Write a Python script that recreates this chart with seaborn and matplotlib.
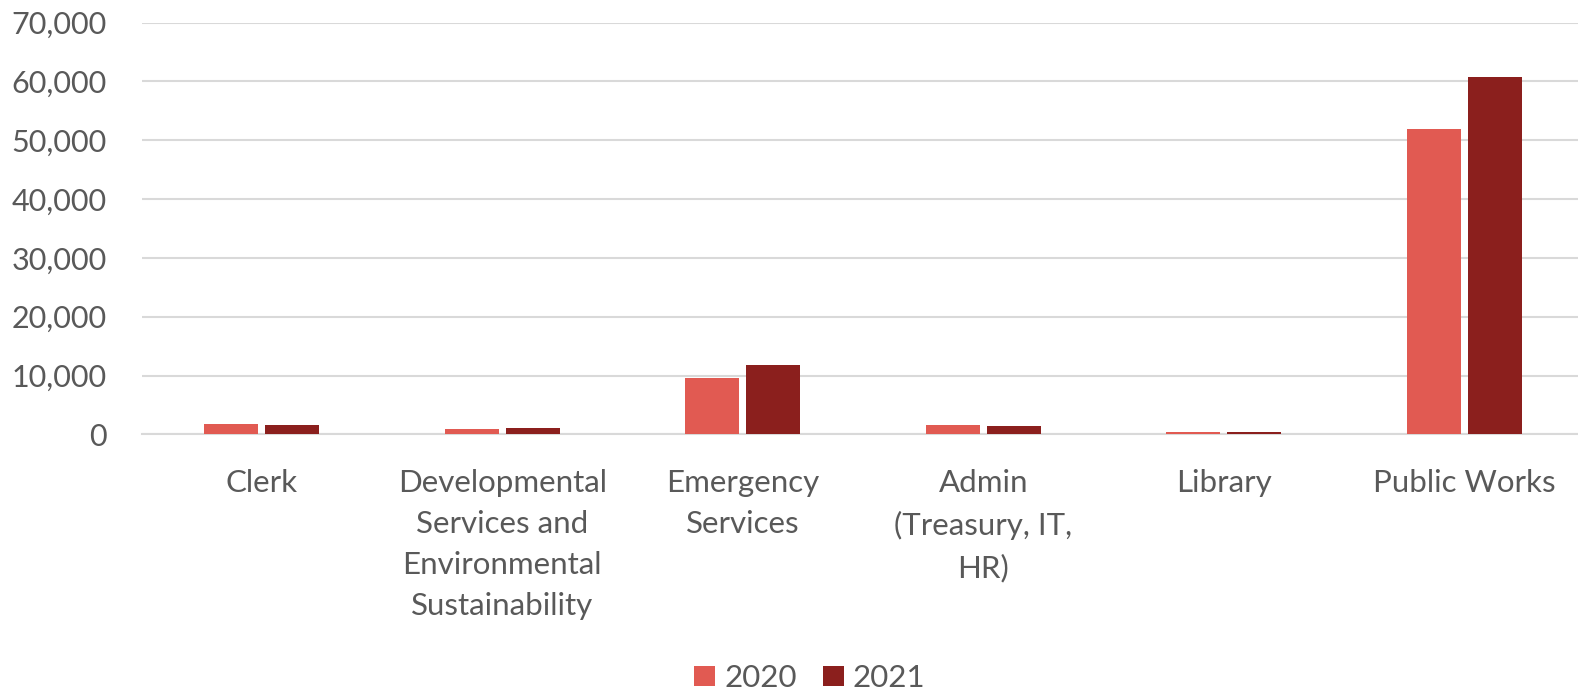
import matplotlib
matplotlib.use("Agg")
import matplotlib.pyplot as plt
import seaborn as sns
import pandas as pd
from matplotlib.ticker import FuncFormatter, MultipleLocator

categories = ["Clerk",
              "Developmental\nServices and\nEnvironmental\nSustainability",
              "Emergency\nServices",
              "Admin\n(Treasury, IT,\nHR)",
              "Library",
              "Public Works"]
values_2020 = [1760, 900, 9490, 1530, 450, 51900]
values_2021 = [1590, 1080, 11780, 1420, 390, 60750]
years = ["2020", "2021"]

df = pd.DataFrame({
    "category": categories * 2,
    "year": [years[0]] * len(categories) + [years[1]] * len(categories),
    "value": values_2020 + values_2021,
})

sns.set_theme(style="white")
plt.rcParams['font.family'] = ['Lato', 'DejaVu Sans']

W, H = 1578, 691
fig = plt.figure(figsize=(W / 100, H / 100), dpi=100)
left, right, top, bottom = 141.5, 1578, 22.7, 434.3
ax = fig.add_axes([left / W, 1 - bottom / H, (right - left) / W, (bottom - top) / H])

palette = {"2020": "#E15A52", "2021": "#8B1F1D"}
sns.barplot(data=df, x="category", y="value", hue="year", palette=palette,
            width=0.51, gap=0.12, ax=ax, legend=True, saturation=1)
for p in ax.patches:
    p.set_zorder(3)
    p.set_linewidth(0)

ax.set_ylim(0, 70000)
ax.yaxis.set_major_locator(MultipleLocator(10000))
ax.yaxis.set_major_formatter(FuncFormatter(lambda v, p: f"{int(v):,}"))
ax.grid(axis="y", color="#D9D9D9", linewidth=1.5)
ax.set_axisbelow(True)
for s in ["top", "right", "left"]:
    ax.spines[s].set_visible(False)
ax.spines["bottom"].set_color("#D9D9D9")
ax.spines["bottom"].set_linewidth(1.5)
ax.spines["bottom"].set_zorder(1)
ax.set_xlabel("")
ax.set_ylabel("")
ax.tick_params(axis="both", length=0, labelcolor="#595959")
ax.tick_params(axis="x", labelsize=22.5, pad=25)
ax.tick_params(axis="y", labelsize=22, pad=25)
for lbl in ax.get_xticklabels():
    lbl.set_linespacing(1.57)
ax.set_xlim(-0.5, 5.473)

handles, labels = ax.get_legend_handles_labels()
ax.legend_.remove()
fig.legend(handles, labels, loc="center", bbox_to_anchor=(810 / W, 1 - 678 / H),
           ncol=2, frameon=False, fontsize=22.5, labelcolor="#595959",
           handlelength=0.65, handleheight=0.65, handletextpad=0.3, columnspacing=0.85)

fig.savefig("out.png", dpi=100)
